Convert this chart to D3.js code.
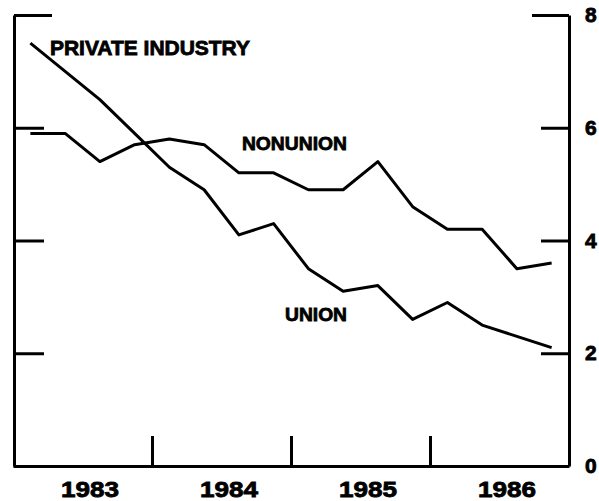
<!DOCTYPE html>
<html>
<head>
<meta charset="utf-8">
<script src="https://cdn.jsdelivr.net/npm/d3@7"></script>
<style>
  body { margin: 0; background: #fff; }
  text { font-family: "Liberation Sans", Arial, sans-serif; font-weight: bold; fill: #000; stroke: #000; stroke-width: 0.8px; }
</style>
</head>
<body>
<svg id="chart" width="599" height="501"></svg>
<script>
// quarterly data, 1983 Q1 to 1986 Q4
const years = [1983, 1984, 1985, 1986];
const quarters = ["1983Q1","1983Q2","1983Q3","1983Q4","1984Q1","1984Q2","1984Q3","1984Q4",
                  "1985Q1","1985Q2","1985Q3","1985Q4","1986Q1","1986Q2","1986Q3","1986Q4"];
const union = [7.5, 7.0, 6.5, 5.9, 5.3, 4.9, 4.1, 4.3, 3.5, 3.1, 3.2, 2.6, 2.9, 2.5, 2.3, 2.1];
const nonunion = [5.9, 5.9, 5.4, 5.7, 5.8, 5.7, 5.2, 5.2, 4.9, 4.9, 5.4, 4.6, 4.2, 4.2, 3.5, 3.6];
const yTicks = [0, 2, 4, 6, 8];

let svg = d3.select("#chart");

// scales: time in years on x, rate on y
let x = d3.scaleLinear().domain([1983, 1987]).range([13, 569]);
let y = d3.scaleLinear().domain([0, 8]).range([466, 15]);

// turns "1984Q3" into the middle of that quarter
function quarterTime(q) {
    let yr = +q.slice(0, 4), n = +q.slice(5);
    return yr + (n - 0.5) / 4;
}

// left axis: ticks point inward, no labels
let left = svg.append("g")
    .attr("transform", `translate(${x(1983) + 1},0)`)
    .call(d3.axisRight(y).tickValues(yTicks.slice(1)).tickSizeInner(30).tickSizeOuter(0).tickFormat(""));
left.selectAll(".tick").filter(d => d == 8).select("line").attr("x2", 38);

// right axis: ticks inward, labels outside
let right = svg.append("g")
    .attr("transform", `translate(${x(1987)},0)`)
    .call(d3.axisRight(y).tickValues(yTicks).tickSizeInner(-28).tickSizeOuter(0).tickPadding(16));
right.selectAll(".tick").filter(d => d == 0).select("line").remove();
right.selectAll(".tick").filter(d => d == 8).select("line").attr("x2", -37);
right.selectAll("text").style("font-size", "21px");

// bottom axis with year boundaries
let bottom = svg.append("g")
    .attr("transform", `translate(0,${y(0)})`)
    .call(d3.axisBottom(x).tickValues([1984, 1985, 1986]).tickSizeInner(-30).tickSizeOuter(0).tickFormat(""));

// year labels centred in each year
svg.append("g")
    .attr("transform", `translate(7,${y(0)})`)
    .call(d3.axisBottom(x).tickValues(years.map(d => d + 0.5)).tickSize(0).tickPadding(15)
        .tickFormat(d => Math.floor(d)))
    .call(g => g.select(".domain").remove())
    .selectAll("text")
    .style("font-size", "22px")
    .attr("textLength", 58)
    .attr("lengthAdjust", "spacingAndGlyphs");

// heavy plotter-style strokes
svg.selectAll(".domain, .tick line")
   .attr("stroke", "#000")
   .attr("stroke-width", 3);
svg.selectAll(".tick text")
   .attr("fill", "#000")
   .attr("stroke", "#000")
   .attr("stroke-width", 0.8)
   .style("font-family", "Liberation Sans, Arial, sans-serif")
   .style("font-weight", "bold");

// the two series
let line = d3.line()
    .x((d, i) => x(quarterTime(quarters[i])))
    .y(d => y(d));

[union, nonunion].forEach(function(series) {
    svg.append("path")
       .datum(series)
       .attr("d", line)
       .attr("fill", "none")
       .attr("stroke", "#000")
       .attr("stroke-width", 3)
       .attr("stroke-linejoin", "round");
});

// text labels placed in data space
let labels = [
    {text: "PRIVATE INDUSTRY", t: 1983.266, v: 7.29, size: 20, len: 200},
    {text: "NONUNION", t: 1984.647, v: 5.6, size: 19, len: 105},
    {text: "UNION", t: 1984.957, v: 2.57, size: 19, len: 62}
];
svg.selectAll(".label")
   .data(labels)
   .enter()
   .append("text")
   .attr("class", "label")
   .attr("x", d => x(d.t))
   .attr("y", d => y(d.v))
   .style("font-size", d => d.size + "px")
   .attr("textLength", d => d.len)
   .attr("lengthAdjust", "spacingAndGlyphs")
   .text(d => d.text);
</script>
</body>
</html>
